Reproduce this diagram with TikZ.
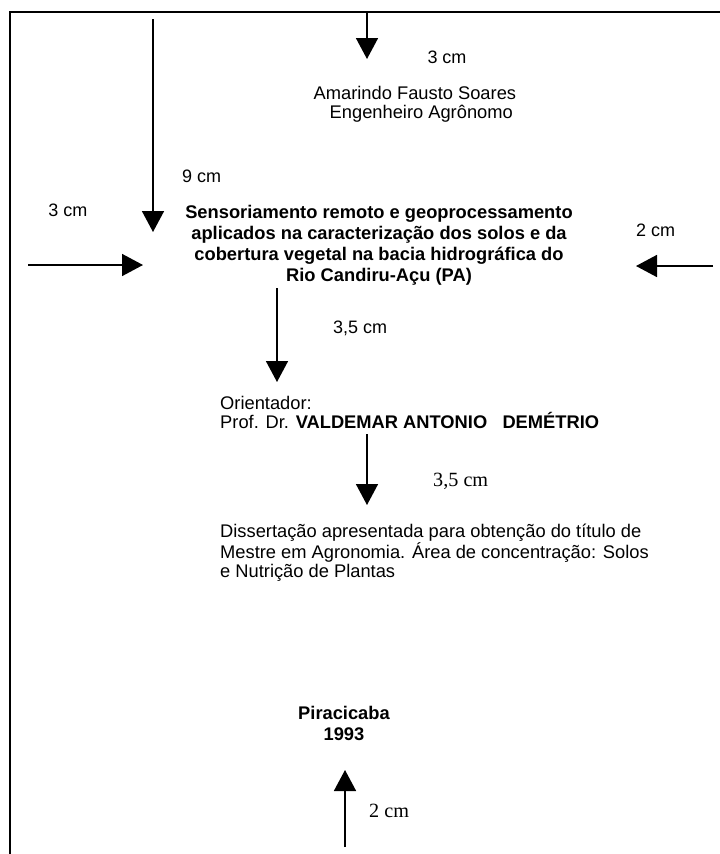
\documentclass[tikz,border=0pt]{standalone}
\usepackage{fontspec}
\setmainfont{Liberation Sans}
\newfontfamily\timesf{Liberation Serif}
\usetikzlibrary{arrows.meta}
\begin{document}
\begin{tikzpicture}[x=1pt,y=-1pt,
  lbl/.style={inner sep=0pt, font=\fontsize{18}{21}\selectfont},
  txt/.style={inner sep=0pt, font=\fontsize{18.3}{19}\selectfont},
  ttl/.style={inner sep=0pt, font=\fontsize{18.3}{21}\selectfont\bfseries},
  srf/.style={inner sep=0pt, font=\fontsize{20.2}{22}\selectfont\timesf},
  arr/.style={line width=1.6pt, -{Triangle[length=21pt,width=22pt]}},
  frame/.style={line width=2pt}
]
\useasboundingbox (0,0) rectangle (720,854);
\fill[white] (0,0) rectangle (720,854);
% frame
\coordinate (tr) at (720,12);
\coordinate (tl) at (10,12);
\coordinate (bl) at (10,854);
\draw[frame] (tr) -- (tl) -- (bl);
% texts (for multi-line nodes, base = baseline of the last line)
\node[lbl, anchor=base] (l3top) at (447,63) {3 cm};
\node[txt, anchor=base west, align=left] (author) at (313.5,118.5)
  {Amarindo Fausto Soares\\\hspace*{16pt}Engenheiro Agrônomo};
\node[lbl, anchor=base west] (l9) at (182,182) {9 cm};
\node[lbl, anchor=base] (l3left) at (68,216) {3 cm};
\node[ttl, anchor=base, align=center] (title) at (379,281)
  {Sensoriamento remoto e geoprocessamento\\aplicados na caracterização dos solos e da\\cobertura vegetal na bacia hidrográfica do\\Rio Candiru-Açu (PA)};
\node[lbl, anchor=base west] (l2r) at (636,236) {2 cm};
\node[lbl, anchor=base west] (l35a) at (333,333) {3,5 cm};
\node[txt, anchor=base west, align=left] (orient) at (220,428)
  {Orientador:\\Prof. Dr. \textbf{VALDEMAR ANTONIO\ \ \ DEMÉTRIO}};
\node[srf, anchor=base west] (l35b) at (433,486) {3,5 cm};
\node[txt, anchor=base west, align=left] (diss) at (220,577)
  {Dissertação apresentada para obtenção do título de\\Mestre em Agronomia. Área de concentração: Solos\\e Nutrição de Plantas};
\node[ttl, anchor=base, align=center] (place) at (344,740) {Piracicaba\\1993};
\node[srf, anchor=base west] (l2b) at (369,817) {2 cm};
% arrow end points
\coordinate (a1s) at (367,12);  \coordinate (a1e) at (367,59);
\coordinate (a2s) at (153,19);  \coordinate (a2e) at (153,232);
\coordinate (a3s) at (28,265);  \coordinate (a3e) at (143,265);
\coordinate (a4s) at (713,266); \coordinate (a4e) at (636,266);
\coordinate (a5s) at (277,288); \coordinate (a5e) at (277,382);
\coordinate (a6s) at (367,434); \coordinate (a6e) at (367,505);
\coordinate (a7s) at (345,847); \coordinate (a7e) at (345,770);
\draw[arr] (a1s) -- (a1e);
\draw[arr] (a2s) -- (a2e);
\draw[arr] (a3s) -- (a3e);
\draw[arr] (a4s) -- (a4e);
\draw[arr] (a5s) -- (a5e);
\draw[arr] (a6s) -- (a6e);
\draw[arr] (a7s) -- (a7e);
\end{tikzpicture}
\end{document}
